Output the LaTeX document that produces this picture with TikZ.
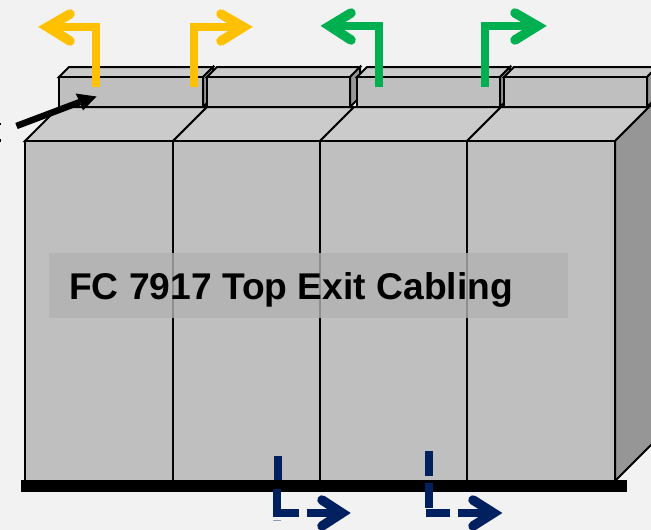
\documentclass[tikz,border=0pt]{standalone}
\usepackage{fontspec}
\setmainfont{Liberation Sans}
\definecolor{bgc}{HTML}{F2F2F2}
\definecolor{frontc}{HTML}{BFBFBF}
\definecolor{topc}{HTML}{CBCBCB}
\definecolor{sidec}{HTML}{969696}
\definecolor{labelc}{HTML}{B2B2B2}
\definecolor{orangec}{HTML}{FFC000}
\definecolor{greenc}{HTML}{00B050}
\definecolor{navyc}{HTML}{002060}
\tikzset{
  rackline/.style={draw=black,line width=2pt,line join=miter},
  stem/.style={line width=8pt,line join=miter,line cap=butt},
  chevron/.style={line width=9.5pt,line join=miter,line cap=round,miter limit=10},
  dashpart/.style={draw=navyc,line width=8pt,line cap=butt},
}
\begin{document}
\begin{tikzpicture}[x=1pt,y=-1pt]
\useasboundingbox (0,0) rectangle (651,530);
\clip (0,0) rectangle (651,530);
\fill[bgc] (0,0) rectangle (651,530);
% upper boxes
\foreach \l/\r in {59/203,207/350,357/500,504/647}{
  \filldraw[rackline,fill=topc] (\l,77) -- (\l+10,67) -- (\r+10,67) -- (\r,77) -- cycle;
  \filldraw[rackline,fill=sidec] (\r,77) -- (\r+10,67) -- (\r+10,97) -- (\r,107) -- cycle;
  \filldraw[rackline,fill=frontc] (\l,77) rectangle (\r,107);
}
% rack top and side
\foreach \l/\r in {25/173,173/320,320/467,467/615}{
  \filldraw[rackline,fill=topc] (\l,141) -- (\l+34,107) -- (\r+34,107) -- (\r,141) -- cycle;
}
\filldraw[rackline,fill=sidec] (615,141) -- (655,101) -- (655,441) -- (615,481) -- cycle;
% rack fronts
\foreach \l/\r in {25/173,173/320,320/467,467/615}{
  \filldraw[rackline,fill=frontc] (\l,141) rectangle (\r,481);
}
% base bar
\fill[black] (21,480) rectangle (627,491.5);
% label
\fill[labelc,opacity=0.8] (49,253) rectangle (568,318);
\node[anchor=base west,inner sep=0pt,font=\fontsize{37.2pt}{37.2pt}\selectfont\bfseries] (title) at (69,299.5) {FC 7917 Top Exit Cabling};
% black pointer
\coordinate (ptrstart) at (16.5,126);
\coordinate (ptrneck) at (80,102);
\draw[black,line width=6.5pt] (ptrstart) -- (ptrneck);
\fill[black] (96.5,96.5) -- (75.5,93.5) -- (80,102) -- (83,110.5) -- cycle;
% orange arrows
\draw[orangec,stem] (96,87) -- (96,27) -- (52,27);
\draw[orangec,chevron] (70,14) -- (47.5,27) -- (70,41);
\draw[orangec,stem] (194,87) -- (194,27) -- (238,27);
\draw[orangec,chevron] (221,14) -- (243.5,27) -- (221,41);
% green arrows
\draw[greenc,stem] (379,87) -- (379,26) -- (334,26);
\draw[greenc,chevron] (351,13) -- (329.5,26) -- (351,40);
\draw[greenc,stem] (485,87) -- (485,26) -- (532,26);
\draw[greenc,chevron] (515,13) -- (537.5,26) -- (515,40);
% navy dashed arrows
\draw[dashpart] (278,456) -- (278,480);
\draw[dashpart] (277,489) -- (277,517);
\draw[dashpart] (273,513) -- (298.5,513);
\draw[dashpart] (306.5,513) -- (336,513);
\draw[navyc,chevron] (322,500) -- (342,513) -- (322,526);
\draw[navyc!45,line width=0.7pt] (273,520.3) -- (281,520.3);
\draw[dashpart] (429,451) -- (429,475.5);
\draw[dashpart] (429,483) -- (429,508);
\draw[dashpart] (425.5,512.5) -- (450,512.5);
\draw[dashpart] (458,512.5) -- (488,512.5);
\draw[navyc,chevron] (473,500) -- (493.5,513) -- (473,526);
% clipped remnants of a letter at the left edge
\fill[black] (0,122.5) rectangle (1.2,125);
\fill[black] (0,139) rectangle (1.2,141.5);
\end{tikzpicture}
\end{document}
